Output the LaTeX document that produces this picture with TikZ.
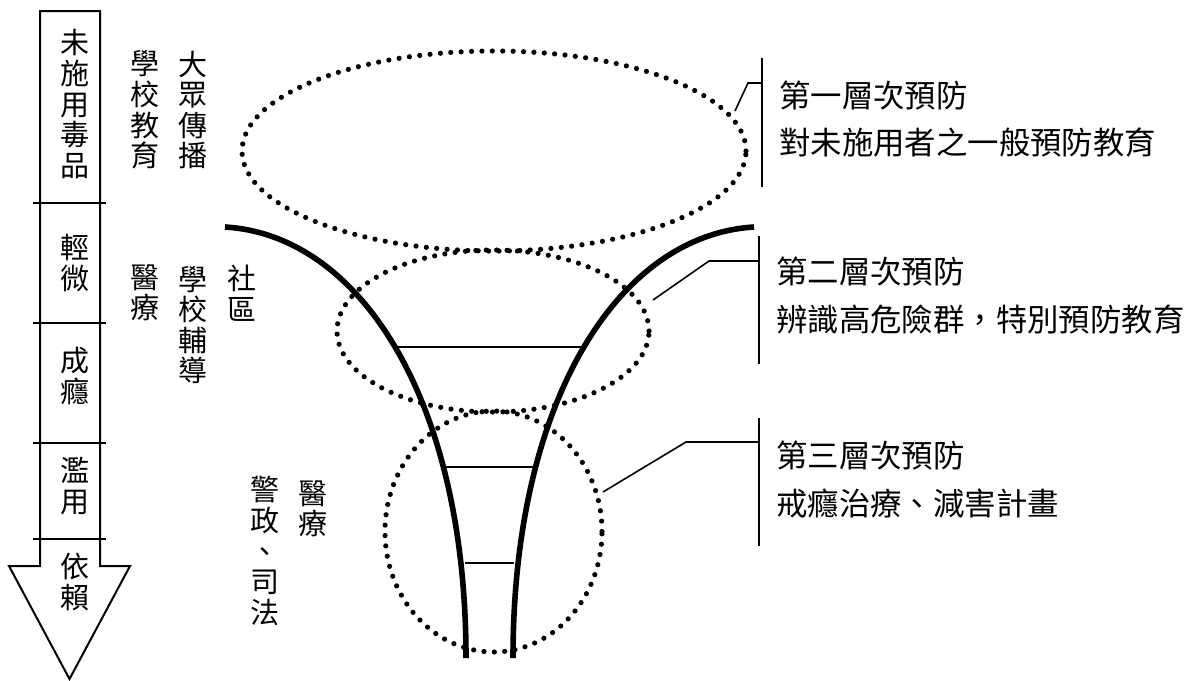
\documentclass[tikz,border=0pt]{standalone}
\usepackage{fontspec}
\newfontfamily\cjk{Noto Sans CJK TC}
\usetikzlibrary{shapes.geometric}
\begin{document}
\begin{tikzpicture}[x=1pt,y=-1pt,
  vt/.style={font=\cjk\fontsize{29}{30.6}\selectfont, align=center, inner sep=0pt},
  ht/.style={font=\cjk\fontsize{31.4}{32}\selectfont, anchor=west, inner sep=0pt},
  dotline/.style={draw, ellipse, line width=5.2pt, line cap=round, dash pattern=on 0pt off 10.4pt, inner sep=0pt},
  funnel/.style={line width=5.6pt},
  rung/.style={line width=1.5pt},
  bracket/.style={line width=1.6pt},
  arrowline/.style={line width=2pt, line join=miter}]
\useasboundingbox (0,0) rectangle (1191,680);
% left arrow
\draw[arrowline] (40,11) -- (100,11) -- (100,566) -- (130,566) -- (69.5,679) -- (9,566) -- (40,566) -- cycle;
\foreach \yy in {203,323,443,539} \draw[arrowline] (33,\yy) -- (106,\yy);
\node[vt] (s1) at (75,104) {未\\施\\用\\毒\\品};
\node[vt] (s2) at (75,263) {輕\\微};
\node[vt] (s3) at (75,376) {成\\癮};
\node[vt] (s4) at (75,486) {濫\\用};
\node[vt] (s5) at (75,582) {依\\賴};
% vertical labels
\node[vt] (a1) at (145,110) {學\\校\\教\\育};
\node[vt] (a2) at (193,110) {大\\眾\\傳\\播};
\node[vt] (b1) at (145,293) {醫\\療};
\node[vt] (b2) at (193,325) {學\\校\\輔\\導};
\node[vt] (b3) at (242,293) {社\\區};
\node[vt] (c1) at (265,551) {警\\政\\、\\司\\法};
\node[vt] (c2) at (313,509) {醫\\療};
% ellipses
\node[dotline, minimum width=504pt, minimum height=200pt] (e1) at (494,151) {};
\node[dotline, minimum width=312pt, minimum height=162pt] (e2) at (493,331) {};
\node[dotline, minimum width=217pt, minimum height=241pt] (e3) at (493.5,531.5) {};
% funnel
\draw[funnel] (225,227) .. controls (360,235) and (466,400) .. (466,658);
\draw[funnel] (754,227) .. controls (619,235) and (513,400) .. (513,658);
\draw[rung] (395,347) -- (584,347);
\draw[rung] (443,467) -- (536,467);
\draw[rung] (465,563) -- (514,563);
% brackets and leaders
\coordinate (k1) at (762,83);
\coordinate (k2) at (759,261);
\coordinate (k3) at (759,442);
\draw[bracket] (762,58) -- (762,187);
\draw[bracket] (735,111) -- (748,83) -- (k1);
\draw[bracket] (759,236) -- (759,364);
\draw[bracket] (653,300) -- (709,261) -- (k2);
\draw[bracket] (759,418) -- (759,546);
\draw[bracket] (603,492) -- (686,442) -- (k3);
% right texts
\node[ht] (r1) at (779,95) {第一層次預防};
\node[ht] (r2) at (779,142) {對未施用者之一般預防教育};
\node[ht] (r3) at (776,271) {第二層次預防};
\node[ht] (r4) at (776,319) {辨識高危險群，特別預防教育};
\node[ht] (r5) at (776,455) {第三層次預防};
\node[ht] (r6) at (776,503) {戒癮治療、減害計畫};
\end{tikzpicture}
\end{document}
